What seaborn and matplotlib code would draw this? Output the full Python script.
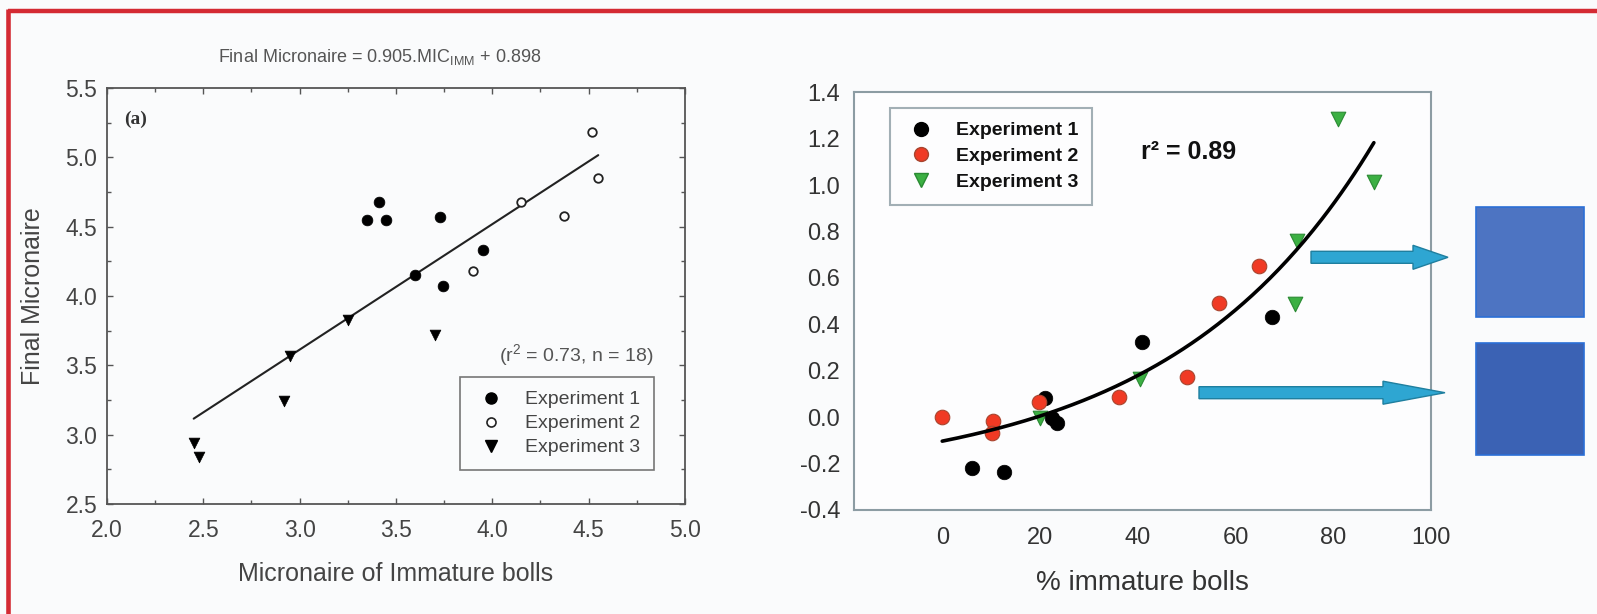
import numpy as np
import pandas as pd
import seaborn as sns
import matplotlib.pyplot as plt
from matplotlib.lines import Line2D
from matplotlib.patches import Rectangle, FancyArrow
from matplotlib.ticker import MultipleLocator

# panel (a): final micronaire vs micronaire of immature bolls
exp1_mic_imm = [3.35, 3.41, 3.45, 3.73, 3.60, 3.745, 3.95]
exp1_final = [4.55, 4.68, 4.55, 4.57, 4.15, 4.075, 4.33]
exp2_mic_imm = [4.52, 4.55, 4.15, 4.37, 3.90]
exp2_final = [5.185, 4.85, 4.68, 4.58, 4.18]
exp3_mic_imm = [3.70, 3.25, 2.95, 2.92, 2.45, 2.48]
exp3_final = [3.72, 3.83, 3.57, 3.24, 2.94, 2.84]
fit_slope, fit_intercept = 0.905, 0.898

# panel (b): response vs % immature bolls
exp1_pct = [6.1, 12.6, 21.1, 22.5, 23.4, 40.9, 67.5]
exp1_val = [-0.218, -0.235, 0.081, -0.005, -0.027, 0.325, 0.433]
exp2_pct = [0, 10.35, 10.1, 19.8, 36.1, 50.1, 56.7, 64.9]
exp2_val = [0.002, -0.017, -0.067, 0.064, 0.085, 0.174, 0.493, 0.653]
exp3_pct = [20.0, 40.4, 72.5, 72.2, 80.9, 88.3]
exp3_val = [-0.005, 0.163, 0.759, 0.486, 1.285, 1.015]
curve_a, curve_b, curve_c = 0.1756, 0.024, -0.279

legend_labels = ["Experiment 1", "Experiment 2", "Experiment 3"]

sns.set_theme(style="white")
plt.rcParams["font.family"] = ["Liberation Sans", "DejaVu Sans"]
plt.rcParams["mathtext.default"] = "regular"

bg = "#fafbfc"
fig = plt.figure(figsize=(15.97, 6.14), dpi=100, facecolor=bg)

# ---------------- left panel ----------------
ax1 = fig.add_axes([0.0670, 0.1792, 0.3619, 0.6775], facecolor=bg)
frame1 = "#555555"

reg_x = np.array([min(exp3_mic_imm), max(exp2_mic_imm)])
sns.lineplot(x=reg_x, y=fit_slope * reg_x + fit_intercept, ax=ax1,
             color="#222222", lw=1.5)
sns.scatterplot(x=exp1_mic_imm, y=exp1_final, ax=ax1, marker="o", s=60,
                color="black", edgecolor="black", linewidth=0.5, zorder=3)
sns.scatterplot(x=exp2_mic_imm, y=exp2_final, ax=ax1, marker="o", s=38,
                facecolor="white", edgecolor="#222222", linewidth=1.3, zorder=3)
sns.scatterplot(x=exp3_mic_imm, y=exp3_final, ax=ax1, marker="v", s=60,
                color="black", edgecolor="black", linewidth=0.5, zorder=3)

ax1.set_xlim(2.0, 5.0)
ax1.set_ylim(2.5, 5.5)
ax1.xaxis.set_major_locator(MultipleLocator(0.5))
ax1.yaxis.set_major_locator(MultipleLocator(0.5))
ax1.xaxis.set_minor_locator(MultipleLocator(0.25))
ax1.yaxis.set_minor_locator(MultipleLocator(0.25))
ax1.xaxis.set_major_formatter(lambda v, p: f"{v:.1f}")
ax1.yaxis.set_major_formatter(lambda v, p: f"{v:.1f}")
ax1.tick_params(which="both", direction="in", top=True, right=True,
                bottom=True, left=True, color=frame1, width=1, labelsize=16.5,
                labelcolor="#444444")
ax1.tick_params(which="major", length=4)
ax1.tick_params(which="minor", length=3)
ax1.tick_params(axis="x", pad=11)
ax1.tick_params(axis="y", pad=7)
for sp in ax1.spines.values():
    sp.set_color(frame1)
    sp.set_linewidth(1.3)

ax1.set_xlabel("Micronaire of Immature bolls", fontsize=18, color="#444444")
ax1.set_ylabel("Final Micronaire", fontsize=18, color="#444444")
ax1.xaxis.set_label_coords(0.5, -0.139)
ax1.yaxis.set_label_coords(-0.107, 0.5)

ax1.text(0.029, 0.925, "(a)", transform=ax1.transAxes, fontsize=14,
         family="Liberation Serif", fontweight="bold", color="#333333",
         va="center", ha="left")
ax1.text(0.9446, 0.358, "(r$^2$ = 0.73, n = 18)", transform=ax1.transAxes,
         fontsize=14, color="#555555", ha="right", va="center")

h1 = [Line2D([], [], ls="none", marker="o", ms=8, color="black"),
      Line2D([], [], ls="none", marker="o", ms=6.5, mfc="white", mec="#222222", mew=1.2),
      Line2D([], [], ls="none", marker="v", ms=8, color="black")]
leg1 = ax1.legend(h1, legend_labels, loc="upper right", bbox_to_anchor=(0.946, 0.305),
                  fontsize=14, frameon=True, fancybox=False, borderpad=0.7,
                  handlelength=1.8, handletextpad=0.85, labelspacing=0.33,
                  labelcolor="#444444", borderaxespad=0)
leg1.get_frame().set_edgecolor(frame1)
leg1.get_frame().set_linewidth(1.2)
leg1.get_frame().set_facecolor(bg)

fig.text(380 / 1597, 1 - 57 / 614, "Final Micronaire = 0.905.MIC$_{IMM}$ + 0.898",
         ha="center", va="center", fontsize=13, color="#555555")

# ---------------- right panel ----------------
ax2 = fig.add_axes([0.5349, 0.1694, 0.3612, 0.6803], facecolor="#fdfdfe")
frame2 = "#8c9ca3"

sns.scatterplot(x=exp3_pct, y=exp3_val, ax=ax2, marker="v", s=110,
                color="#3cb043", edgecolor="#2a8a33", linewidth=0.8, zorder=3)
sns.scatterplot(x=exp1_pct, y=exp1_val, ax=ax2, marker="o", s=110,
                color="black", edgecolor="black", linewidth=0.5, zorder=3)
sns.scatterplot(x=exp2_pct, y=exp2_val, ax=ax2, marker="o", s=110,
                color="#f03a24", edgecolor="#a8452f", linewidth=0.8, zorder=3)

curve_x = np.linspace(0, max(exp3_pct), 200)
sns.lineplot(x=curve_x, y=curve_a * np.exp(curve_b * curve_x) + curve_c, ax=ax2,
             color="black", lw=2.6, zorder=4)

ax2.set_xlim(-18, 100)
ax2.set_ylim(-0.4, 1.4)
ax2.set_xticks([0, 20, 40, 60, 80, 100])
ax2.yaxis.set_major_locator(MultipleLocator(0.2))
ax2.yaxis.set_major_formatter(lambda v, p: f"{v:.1f}")
ax2.tick_params(direction="in", length=5, width=1.2, color=frame2,
                labelsize=17, labelcolor="#333333")
ax2.tick_params(axis="x", pad=12)
ax2.tick_params(axis="y", pad=10)
for sp in ax2.spines.values():
    sp.set_color(frame2)
    sp.set_linewidth(1.5)
ax2.set_xlabel("% immature bolls", fontsize=20, color="#333333")
ax2.xaxis.set_label_coords(0.5, -0.1437)

ax2.text(0.498, 0.858, "r² = 0.89", transform=ax2.transAxes, fontsize=18,
         fontweight="bold", color="#111111", ha="left", va="center")

h2 = [Line2D([], [], ls="none", marker="o", ms=10, color="black"),
      Line2D([], [], ls="none", marker="o", ms=10, mfc="#f03a24", mec="#a8452f"),
      Line2D([], [], ls="none", marker="v", ms=10, mfc="#3cb043", mec="#2a8a33")]
leg2 = ax2.legend(h2, legend_labels, loc="upper left", bbox_to_anchor=(0.062, 0.962),
                  frameon=True, fancybox=False, borderpad=0.7, handlelength=1.8,
                  handletextpad=0.9, labelspacing=0.42, borderaxespad=0,
                  prop={"size": 14, "weight": "bold"}, labelcolor="#111111")
leg2.get_frame().set_edgecolor(frame2)
leg2.get_frame().set_linewidth(1.5)
leg2.get_frame().set_facecolor("#fdfdfe")

# ---------------- arrows, swatches and border (inches) ----------------
tr = fig.dpi_scale_trans
arrow_kw = dict(length_includes_head=True, transform=tr, facecolor="#2ea6d2",
                edgecolor="#1f7f9f", lw=1.0, zorder=5)
fig.add_artist(FancyArrow(13.11, 3.567, 1.37, 0, width=0.12, head_width=0.24,
                          head_length=0.35, **arrow_kw))
fig.add_artist(FancyArrow(11.99, 2.213, 2.46, 0, width=0.12, head_width=0.23,
                          head_length=0.62, **arrow_kw))
fig.add_artist(Rectangle((14.76, 2.97), 1.08, 1.10, transform=tr,
                         facecolor="#4d74c2", edgecolor="#2b6fd6", lw=1.2))
fig.add_artist(Rectangle((14.76, 1.59), 1.08, 1.12, transform=tr,
                         facecolor="#3b62b4", edgecolor="#2b6fd6", lw=1.2))

red = "#d42a33"
fig.add_artist(Line2D([0.083, 15.97], [6.14 - 0.113, 6.14 - 0.113], transform=tr,
                      color=red, lw=3.2, solid_capstyle="butt"))
fig.add_artist(Line2D([0.083, 0.083], [0, 6.14 - 0.09], transform=tr,
                      color=red, lw=3.3, solid_capstyle="butt"))

fig.savefig("out.png", dpi=100, facecolor=bg)
